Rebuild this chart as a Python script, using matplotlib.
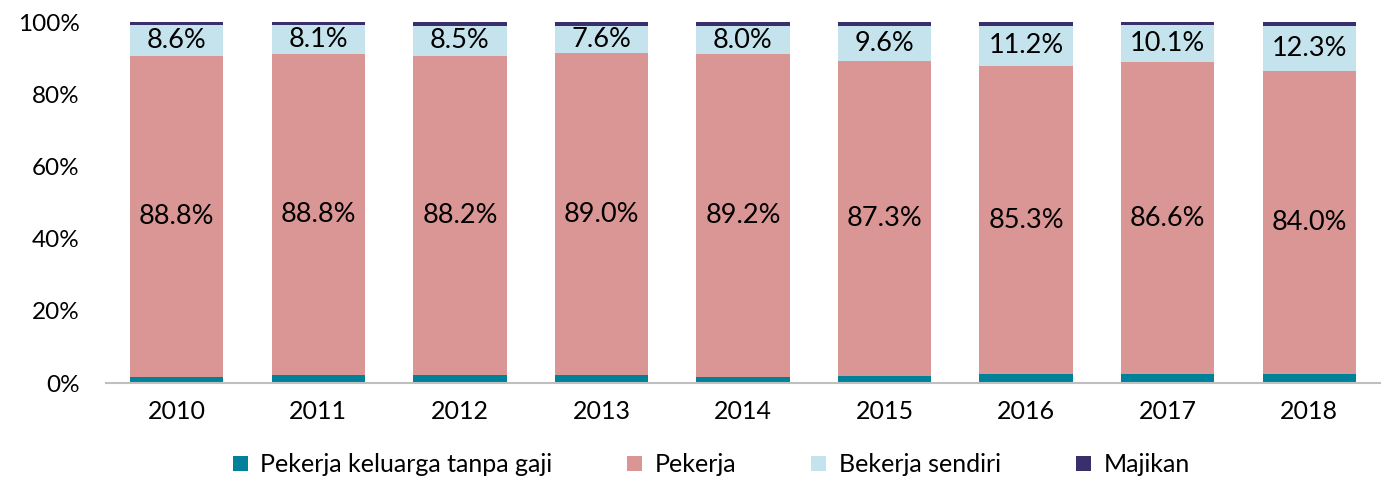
import matplotlib.pyplot as plt
import numpy as np

plt.rcParams['font.family'] = ['Lato', 'DejaVu Sans']

years = ['2010', '2011', '2012', '2013', '2014', '2015', '2016', '2017', '2018']
tanpa_gaji = [1.8, 2.2, 2.3, 2.3, 1.8, 1.9, 2.5, 2.4, 2.5]
pekerja = [88.8, 88.8, 88.2, 89.0, 89.2, 87.3, 85.3, 86.6, 84.0]
sendiri = [8.6, 8.1, 8.5, 7.6, 8.0, 9.6, 11.2, 10.1, 12.3]
majikan = [0.8, 0.9, 1.0, 1.1, 1.0, 1.2, 1.0, 0.9, 1.2]

names = ['Pekerja keluarga tanpa gaji', 'Pekerja', 'Bekerja sendiri', 'Majikan']
colors = ['#00819A', '#DA9694', '#C5E3EC', '#39306B']

fig = plt.figure(figsize=(13.81, 4.82), dpi=100)
ax = fig.add_axes([106 / 1381, 99 / 482, 1274 / 1381, 361 / 482])

x = np.arange(len(years))
bottom = np.zeros(len(years))
for name, vals, col in zip(names, [tanpa_gaji, pekerja, sendiri, majikan], colors):
    vals = np.array(vals) / 100
    ax.bar(x, vals, 0.66, bottom=bottom, color=col, label=name)
    if name in ('Pekerja', 'Bekerja sendiri'):
        for xi, v, b in zip(x, vals, bottom):
            ax.text(xi, b + v / 2, f'{v * 100:.1f}%', ha='center', va='center',
                    fontsize=19.5, color='black')
    bottom += vals

ax.set_xlim(-0.5, 8.5)
ax.set_ylim(0, 1)
ax.set_xticks(x)
ax.set_xticklabels(years, fontsize=18)
ax.set_yticks(np.arange(0, 1.01, 0.2))
ax.set_yticklabels([f'{int(t * 100)}%' for t in np.arange(0, 1.01, 0.2)], fontsize=17.5)
ax.tick_params(length=0, pad=12)
ax.tick_params(axis='y', pad=19)
for s in ['top', 'right', 'left']:
    ax.spines[s].set_visible(False)
ax.spines['bottom'].set_color('#BFBFBF')
ax.spines['bottom'].set_linewidth(1.5)

fig.legend(loc='lower center', bbox_to_anchor=(0.515, -0.035), ncol=4, frameon=False,
           fontsize=18, handlelength=0.6, handleheight=0.6, handletextpad=0.5,
           columnspacing=3.0)

fig.savefig('out.png', dpi=100)
